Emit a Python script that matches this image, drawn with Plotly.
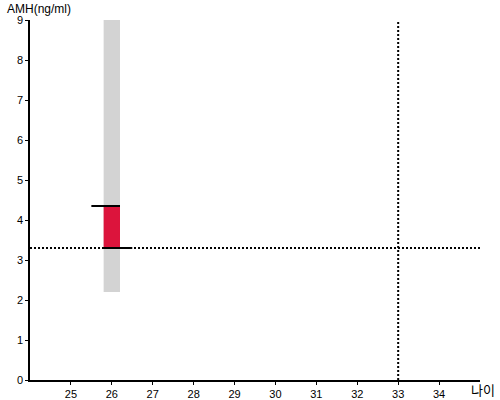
import plotly.graph_objects as go

# Data
age_center = [26]
range_low = [2.2]
range_high = [9.0]
value_low = [3.3]
value_high = [4.35]
threshold_amh = 3.3
threshold_age = 33
x_ticks = [25, 26, 27, 28, 29, 30, 31, 32, 33, 34]
y_ticks = [0, 1, 2, 3, 4, 5, 6, 7, 8, 9]

bar_w = 0.4
fig = go.Figure()

fig.add_trace(go.Bar(
    x=age_center, y=[h - l for h, l in zip(range_high, range_low)], base=range_low,
    width=bar_w, marker=dict(color="#d3d3d3", line=dict(width=0)), hoverinfo="skip"))
fig.add_trace(go.Bar(
    x=age_center, y=[h - l for h, l in zip(value_high, value_low)], base=value_low,
    width=bar_w, marker=dict(color="#dc143c", line=dict(width=0)), hoverinfo="skip"))

# dotted reference lines
fig.add_trace(go.Scatter(x=[24, 35], y=[threshold_amh, threshold_amh], mode="lines",
                         line=dict(color="black", width=2, dash="2px,2px"), hoverinfo="skip"))
fig.add_trace(go.Scatter(x=[threshold_age, threshold_age], y=[0, 9], mode="lines",
                         line=dict(color="black", width=2, dash="2px,2px"), hoverinfo="skip"))

# black caps
c = age_center[0]
fig.add_trace(go.Scatter(x=[c - 0.5, c + bar_w / 2], y=[value_high[0]] * 2, mode="lines",
                         line=dict(color="black", width=2), hoverinfo="skip"))
fig.add_trace(go.Scatter(x=[c - bar_w / 2 - 0.03, c + 0.5], y=[value_low[0]] * 2, mode="lines",
                         line=dict(color="black", width=2), hoverinfo="skip"))

fig.update_layout(
    width=500, height=400,
    margin=dict(l=30, r=20, t=20, b=20, autoexpand=False),
    paper_bgcolor="white", plot_bgcolor="white",
    showlegend=False, barmode="overlay",
    font=dict(family="Liberation Sans, Arial", size=11, color="black"),
    xaxis=dict(range=[24, 35], tickvals=x_ticks, showgrid=False, zeroline=False,
               showline=True, linecolor="black", linewidth=1.5, ticks="outside",
               ticklen=3, tickcolor="black", tickfont=dict(size=11), automargin=False),
    yaxis=dict(range=[0, 9], tickvals=y_ticks, showgrid=False, zeroline=False,
               showline=True, linecolor="black", linewidth=1.5, ticks="outside",
               ticklen=3, tickcolor="black", tickfont=dict(size=11), automargin=False),
    annotations=[
        dict(text="AMH(ng/ml)", xref="paper", yref="paper", x=-25/450, y=1 + 11/360,
             xanchor="left", yanchor="middle", showarrow=False,
             font=dict(size=12, family="Liberation Sans, Arial")),
        dict(text="나이", xref="paper", yref="paper", x=1 + 17/450, y=-10/360,
             xanchor="right", yanchor="middle", showarrow=False,
             font=dict(size=13, family="Noto Sans CJK KR")),
    ],
)

fig.write_html("out.html", config={"displayModeBar": False},
               post_script="document.body.style.margin='0';")
